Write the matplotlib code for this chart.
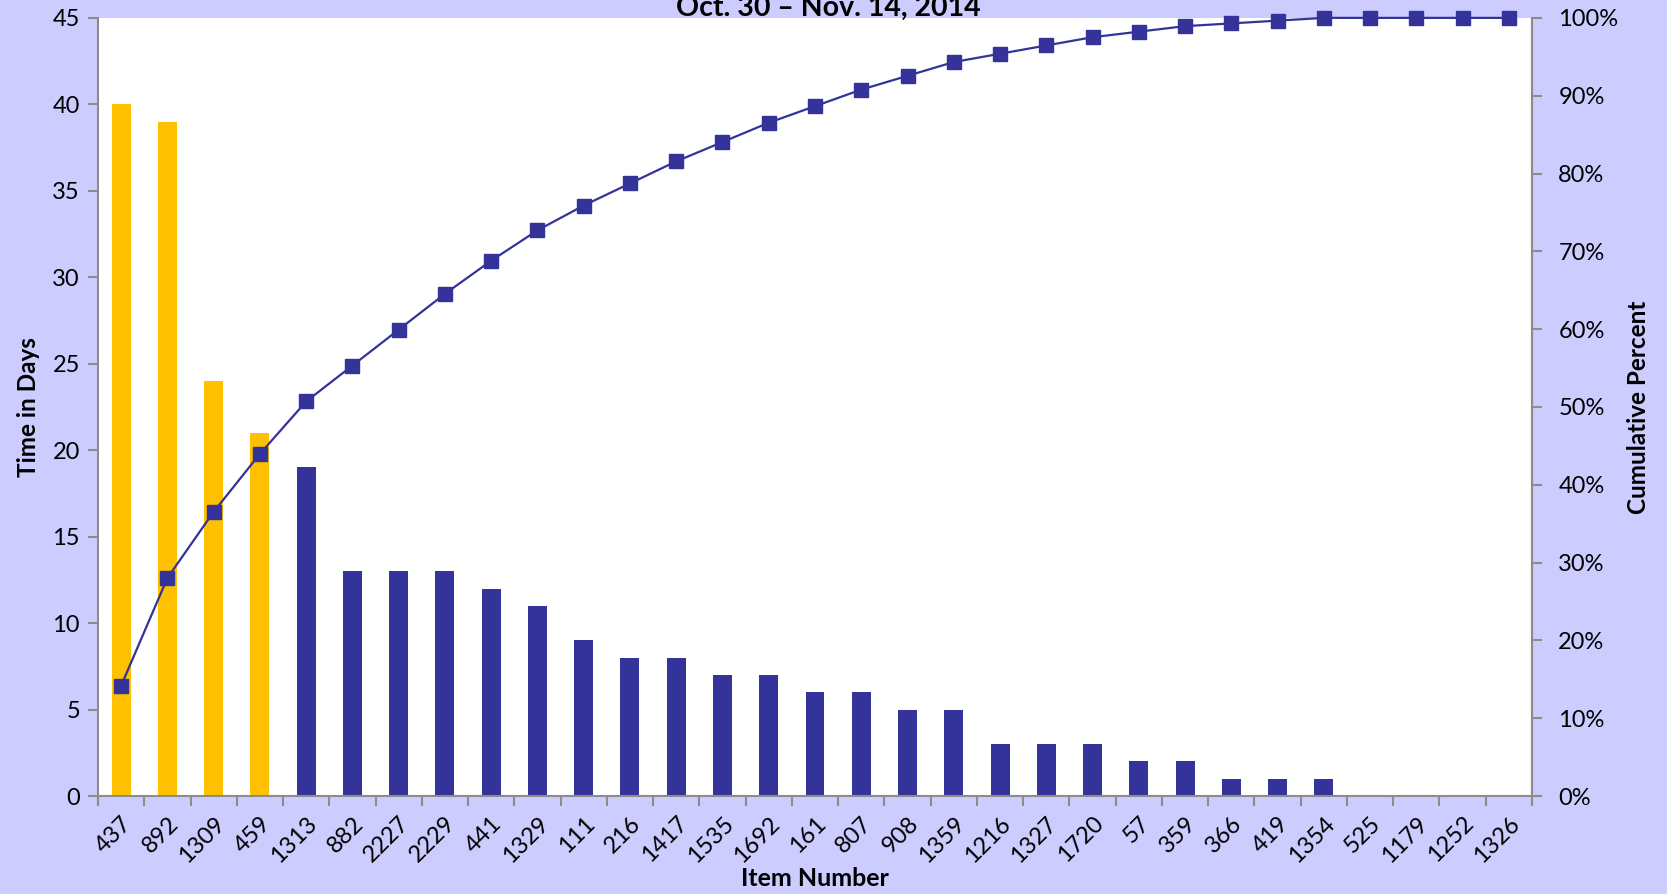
import numpy as np
import matplotlib.pyplot as plt

plt.rcParams['font.family'] = ['Lato', 'DejaVu Sans']

# item numbers and days, sorted for the pareto
items = ['437', '892', '1309', '459', '1313', '882', '2227', '2229', '441', '1329',
         '111', '216', '1417', '1535', '1692', '161', '807', '908', '1359', '1216',
         '1327', '1720', '57', '359', '366', '419', '1354', '525', '1179', '1252', '1326']
days = [40, 39, 24, 21, 19, 13, 13, 13, 12, 11,
        9, 8, 8, 7, 7, 6, 6, 5, 5, 3,
        3, 3, 2, 2, 1, 1, 1, 0, 0, 0, 0]
n_top = 4  # first few items get highlighted

bg = '#ccccff'
navy = '#333399'
gold = '#ffc000'
grey = '#8c8c8c'

cum_pct = np.cumsum(days) / np.sum(days)
x = np.arange(len(items))
colors = [gold if i < n_top else navy for i in range(len(items))]

fig = plt.figure(figsize=(16.67, 8.94), dpi=100, facecolor=bg)
ax = fig.add_axes([0.0588, 0.1096, 0.8602, 0.8704])
ax.set_facecolor('white')
ax.bar(x, days, width=0.41, color=colors, zorder=2)
ax.set_xlim(-0.5, len(items) - 0.5)
ax.set_ylim(0, 45)
ax.set_yticks(range(0, 46, 5))
ax.set_xticks(np.arange(-0.5, len(items), 1), minor=False)
ax.set_xticklabels([])
ax.set_xticks(x, minor=True)
ax.set_xticklabels(items, minor=True, rotation=45, ha='right', va='top',
                   rotation_mode='anchor', fontsize=17)
ax.tick_params(axis='x', which='minor', length=0, pad=12)
ax.tick_params(axis='x', which='major', length=7, width=1.5, color=grey)
ax.tick_params(axis='y', length=7, width=1.5, color=grey, labelsize=17, pad=6)

ax.spines['top'].set_visible(False)
for side in ['left', 'bottom', 'right']:
    ax.spines[side].set_color(grey)
    ax.spines[side].set_linewidth(1.5)

ax.set_ylabel('Time in Days', fontsize=17.5, fontweight='bold', labelpad=9)
ax.set_xlabel('Item Number', fontsize=18, fontweight='bold', labelpad=0)

ax2 = ax.twinx()
ax2.plot(x, cum_pct, color=navy, lw=1.6, marker='s', markersize=10.5,
         markeredgecolor=navy, clip_on=False, zorder=3)
ax2.set_ylim(0, 1)
ax2.set_yticks(np.arange(0, 1.01, 0.1))
ax2.set_yticklabels(['{:d}%'.format(int(round(v * 100))) for v in np.arange(0, 1.01, 0.1)])
ax2.tick_params(axis='y', length=7, width=1.5, color=grey, labelsize=17, pad=12)
ax2.spines['top'].set_visible(False)
ax2.spines['right'].set_color(grey)
ax2.spines['right'].set_linewidth(1.5)
ax2.spines['left'].set_visible(False)
ax2.spines['bottom'].set_visible(False)
ax2.set_ylabel('Cumulative Percent', fontsize=17.5, fontweight='bold', labelpad=6)

fig.text(0.497, 1 - 16 / 894, 'Oct. 30 – Nov. 14, 2014', ha='center', va='baseline',
         fontsize=20.5, fontweight='bold')

fig.savefig('out.png', dpi=100, facecolor=bg)
